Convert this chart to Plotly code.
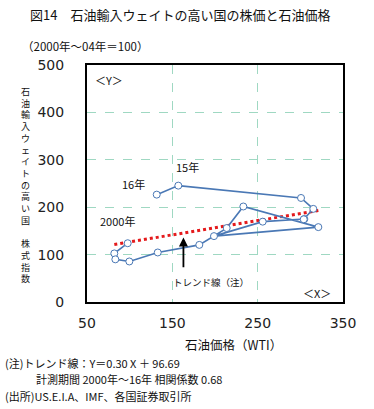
import plotly.graph_objects as go

years = list(range(2000, 2017))
wti_index = [97.7, 82.0, 83.2, 99.6, 132.9, 181.6, 213.7, 233.2, 321.1, 198.8,
             255.9, 304.7, 304.0, 315.2, 300.8, 157.0, 131.7]
stock_index = [124.0, 102.5, 90.0, 85.5, 104.5, 120.5, 156.0, 201.5, 158.0, 139.0,
               169.5, 175.0, 174.5, 196.5, 219.5, 245.5, 226.5]
trend_slope = 0.30
trend_intercept = 96.69
x_ticks = [50, 150, 250, 350]
y_ticks = [0, 100, 200, 300, 400, 500]

W, H = 374, 409
L, R, T, B = 87, 31, 65, 107
PW, PH = W - L - R, H - T - B

def px(xp):
    return (xp - L) / PW

def py(yp):
    return (H - B - yp) / PH

JP = "Noto Sans CJK JP"
NUM = "DejaVu Sans"

fig = go.Figure()

xmin, xmax = min(wti_index), max(wti_index)
fig.add_trace(go.Scatter(
    x=[xmin, xmax],
    y=[trend_slope * xmin + trend_intercept, trend_slope * xmax + trend_intercept],
    mode="lines", line=dict(color="#e41a1c", width=3, dash="dot"),
    hoverinfo="skip", showlegend=False))

fig.add_trace(go.Scatter(
    x=wti_index, y=stock_index, mode="lines+markers",
    line=dict(color="#4a78b5", width=1.6),
    marker=dict(symbol="circle", size=7, color="white",
                line=dict(color="#4a78b5", width=1)),
    text=[str(y) for y in years], showlegend=False))

grid = dict(showgrid=True, gridcolor="#9fd8c2", griddash="dash", gridwidth=1,
            zeroline=False, showline=True, linecolor="black", linewidth=2,
            mirror=True, ticks="")
fig.update_xaxes(range=[50, 350], tickvals=x_ticks, **grid,
                 tickfont=dict(family=NUM, size=14, color="#222"),
                 ticklabelstandoff=7)
fig.update_yaxes(range=[0, 500], tickvals=y_ticks, **grid,
                 tickfont=dict(family=NUM, size=14, color="#222"),
                 ticklabelstandoff=18)

ann = []
def add(text, x, y, size=11, xref="paper", yref="paper", xanchor="center",
        yanchor="middle", family=JP):
    ann.append(dict(text=text, x=x, y=y, xref=xref, yref=yref, showarrow=False,
                    xanchor=xanchor, yanchor=yanchor,
                    font=dict(family=family, size=size, color="#111")))

add("図14　石油輸入ウェイトの高い国の株価と石油価格", px(28), py(15), size=13,
    xanchor="left")
add("（2000年～04年＝100）", px(20), py(46), size=11.5, xanchor="left")

ytitle = "石油輸入ウェイトの高い国　株式指数"
add("<br>".join(list(ytitle)), px(25), py(185), size=9)

add("石油価格（WTI）", px(233), py(344), size=12.5)
add("＜Y＞", px(109), py(80), size=11)
add("＜X＞", px(317), py(293), size=11)

add("15年", 168, 284, size=11, xref="x", yref="y")
add("16年", 104, 250, size=11, xref="x", yref="y")
add("2000年", 86, 170, size=11, xref="x", yref="y")
add("トレンド線（注）", 195, 43, size=9.5, xref="x", yref="y")

ann.append(dict(x=163, y=136, ax=163, ay=70, xref="x", yref="y", axref="x",
                ayref="y", showarrow=True, arrowhead=2, arrowsize=1,
                arrowwidth=1.8, arrowcolor="black", text=""))

add("(注)トレンド線：Y＝0.30 X ＋ 96.69", px(3), py(363), size=11, xanchor="left")
add("計測期間 2000年～16年 相関係数 0.68", px(34), py(379), size=11, xanchor="left")
add("(出所)US.E.I.A、IMF、各国証券取引所", px(3), py(396), size=11, xanchor="left")

fig.update_layout(width=W, height=H, margin=dict(l=L, r=R, t=T, b=B),
                  paper_bgcolor="white", plot_bgcolor="white",
                  annotations=ann, showlegend=False)

fig.write_html("out.html", config={"displayModeBar": False},
               post_script="document.body.style.margin='0';document.body.style.padding='0';")
